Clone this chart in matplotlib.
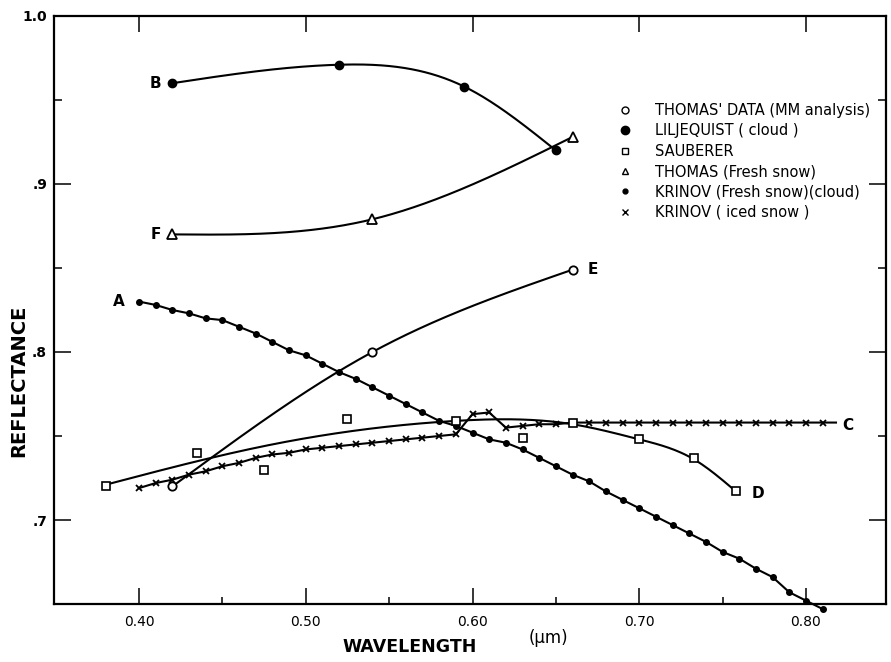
import numpy as np
import matplotlib
matplotlib.use("Agg")
import matplotlib.pyplot as plt
from matplotlib.lines import Line2D

# ---------------- data ----------------
# B : LILJEQUIST (cloud)
B_x = [0.42, 0.52, 0.595, 0.65]
B_y = [0.960, 0.971, 0.958, 0.920]
# F : THOMAS (Fresh snow)
F_x = [0.42, 0.54, 0.66]
F_y = [0.870, 0.879, 0.928]
# E : THOMAS' DATA (MM analysis)
E_x = [0.42, 0.54, 0.66]
E_y = [0.720, 0.800, 0.849]
# D : SAUBERER (squares) and the drawn curve through them
D_x = [0.38, 0.435, 0.475, 0.525, 0.59, 0.63, 0.66, 0.70, 0.733, 0.758]
D_y = [0.720, 0.740, 0.730, 0.760, 0.759, 0.749, 0.758, 0.748, 0.737, 0.717]
Dcurve_x = [0.38, 0.48, 0.59, 0.66, 0.70, 0.733, 0.758]
Dcurve_y = [0.721, 0.745, 0.759, 0.757, 0.748, 0.736, 0.717]
# A : KRINOV (Fresh snow)(cloud)
A_x = [0.40, 0.41, 0.42, 0.43, 0.44, 0.45, 0.46, 0.47, 0.48, 0.49,
       0.50, 0.51, 0.52, 0.53, 0.54, 0.55, 0.56, 0.57, 0.58, 0.59,
       0.60, 0.61, 0.62, 0.63, 0.64, 0.65, 0.66, 0.67, 0.68, 0.69,
       0.70, 0.71, 0.72, 0.73, 0.74, 0.75, 0.76, 0.77, 0.78, 0.79,
       0.80, 0.81]
A_y = [0.830, 0.828, 0.825, 0.823, 0.820, 0.819, 0.815, 0.811, 0.806, 0.801,
       0.798, 0.793, 0.788, 0.784, 0.779, 0.774, 0.769, 0.764, 0.759, 0.756,
       0.752, 0.748, 0.746, 0.742, 0.737, 0.732, 0.727, 0.723, 0.717, 0.712,
       0.707, 0.702, 0.697, 0.692, 0.687, 0.681, 0.677, 0.671, 0.666, 0.657,
       0.652, 0.647]
# C : KRINOV (iced snow)
C_x = [0.40, 0.41, 0.42, 0.43, 0.44, 0.45, 0.46, 0.47, 0.48, 0.49,
       0.50, 0.51, 0.52, 0.53, 0.54, 0.55, 0.56, 0.57, 0.58, 0.59,
       0.60, 0.61, 0.62, 0.63, 0.64, 0.65, 0.66, 0.67, 0.68, 0.69,
       0.70, 0.71, 0.72, 0.73, 0.74, 0.75, 0.76, 0.77, 0.78, 0.79,
       0.80, 0.81, 0.818]
C_y = [0.719, 0.722, 0.724, 0.727, 0.729, 0.732, 0.734, 0.737, 0.739, 0.740,
       0.742, 0.743, 0.744, 0.745, 0.746, 0.747, 0.748, 0.749, 0.750, 0.751,
       0.763, 0.764, 0.755, 0.756, 0.757, 0.757, 0.758, 0.758, 0.758, 0.758,
       0.758, 0.758, 0.758, 0.758, 0.758, 0.758, 0.758, 0.758, 0.758, 0.758,
       0.758, 0.758, 0.758]

curve_labels = ["A", "B", "C", "D", "E", "F"]
label_pos_x = [0.388, 0.410, 0.825, 0.771, 0.672, 0.410]
label_pos_y = [0.830, 0.960, 0.756, 0.716, 0.849, 0.870]

legend_labels = ["THOMAS' DATA (MM analysis)", "LILJEQUIST ( cloud )", "SAUBERER",
                 "THOMAS (Fresh snow)", "KRINOV (Fresh snow)(cloud)", "KRINOV ( iced snow )"]

x_ticks = [0.40, 0.50, 0.60, 0.70, 0.80]
x_tick_labels = ["0.40", "0.50", "0.60", "0.70", "0.80"]
y_ticks = [0.7, 0.8, 0.9, 1.0]
y_tick_labels = [".7", ".8", ".9", "1.0"]


def natural_spline(xs, ys, n=300):
    xs = np.asarray(xs, float)
    ys = np.asarray(ys, float)
    k = len(xs)
    h = np.diff(xs)
    A = np.zeros((k, k))
    r = np.zeros(k)
    A[0, 0] = 1
    A[-1, -1] = 1
    for i in range(1, k - 1):
        A[i, i - 1] = h[i - 1]
        A[i, i] = 2 * (h[i - 1] + h[i])
        A[i, i + 1] = h[i]
        r[i] = 6 * ((ys[i + 1] - ys[i]) / h[i] - (ys[i] - ys[i - 1]) / h[i - 1])
    M = np.linalg.solve(A, r)
    xx = np.linspace(xs[0], xs[-1], n)
    yy = np.empty_like(xx)
    for j, x in enumerate(xx):
        i = min(np.searchsorted(xs, x) - 1, k - 2)
        i = max(i, 0)
        t1 = xs[i + 1] - x
        t0 = x - xs[i]
        yy[j] = (M[i] * t1 ** 3 / (6 * h[i]) + M[i + 1] * t0 ** 3 / (6 * h[i])
                 + (ys[i] / h[i] - M[i] * h[i] / 6) * t1
                 + (ys[i + 1] / h[i] - M[i + 1] * h[i] / 6) * t0)
    return xx, yy


W, H = 891, 662
fig = plt.figure(figsize=(W / 100, H / 100), dpi=100)
ax = fig.add_axes([54 / W, 1 - 604 / H, (886 - 54) / W, (604 - 16) / H])
ax.set_xlim(0.349, 0.848)
ax.set_ylim(0.65, 1.0)

lw = 1.5
k = "black"

# curves
bx, by = natural_spline(B_x, B_y)
ax.plot(bx, by, color=k, lw=lw, zorder=3)
ax.plot(B_x, B_y, "o", color=k, ms=6, zorder=4)

fx, fy = natural_spline(F_x, F_y)
ax.plot(fx, fy, color=k, lw=lw, zorder=3)
ax.plot(F_x, F_y, "^", mfc="white", mec=k, mew=1.3, ms=6.5, zorder=4)

ex, ey = natural_spline(E_x, E_y)
ax.plot(ex, ey, color=k, lw=lw, zorder=3)
ax.plot(E_x, E_y, "o", mfc="white", mec=k, mew=1.3, ms=6, zorder=4)

dx, dy = natural_spline(Dcurve_x, Dcurve_y)
ax.plot(dx, dy, color=k, lw=lw, zorder=3)
ax.plot(D_x, D_y, "s", mfc="white", mec=k, mew=1.2, ms=5.5, zorder=4)

ax.plot(A_x, A_y, color=k, lw=lw, marker="o", ms=4, zorder=3, clip_on=False)

ax.plot(C_x, C_y, color=k, lw=lw, marker="x", ms=5, mew=1.3,
        markevery=slice(0, len(C_x) - 1), zorder=3)

for lab, lx, ly in zip(curve_labels, label_pos_x, label_pos_y):
    ax.text(lx, ly, lab, ha="center", va="center", fontsize=11,
            fontweight="bold", family="DejaVu Sans")

# legend
handles = [
    Line2D([], [], ls="none", marker="o", mfc="white", mec=k, mew=1.0, ms=5),
    Line2D([], [], ls="none", marker="o", color=k, ms=6),
    Line2D([], [], ls="none", marker="s", mfc="white", mec=k, mew=1.0, ms=5),
    Line2D([], [], ls="none", marker="^", mfc="white", mec=k, mew=1.0, ms=5),
    Line2D([], [], ls="none", marker="o", color=k, ms=3.5),
    Line2D([], [], ls="none", marker="x", color=k, mew=1.0, ms=4.5),
]
fig.legend(handles, legend_labels, loc="upper left",
           bbox_to_anchor=(618 / W, 1 - 103 / H), bbox_transform=fig.transFigure,
           frameon=False, fontsize=10.5, handlelength=1.0, handletextpad=1.55,
           labelspacing=0.37, borderpad=0, borderaxespad=0)

# spines / ticks
for s in ax.spines.values():
    s.set_linewidth(1.6)

ax.set_xticks(x_ticks)
ax.set_xticklabels(x_tick_labels, fontsize=10)
ax.set_xticks([0.45, 0.55, 0.65, 0.75], minor=True)
ax.set_yticks(y_ticks)
ax.set_yticklabels(y_tick_labels, fontsize=10, fontweight="bold")
ax.set_yticks([0.75, 0.85, 0.95], minor=True)
ax.tick_params(axis="x", which="major", direction="in", length=11.5, width=1.1,
               top=True, pad=8)
ax.tick_params(axis="x", which="minor", direction="in", length=5, width=1.1, top=False)
ax.tick_params(axis="y", which="major", direction="in", length=12, width=1.1,
               right=True, pad=5)
ax.tick_params(axis="y", which="minor", direction="in", length=6, width=1.1, right=True)

ax.set_ylabel("REFLECTANCE", fontsize=14, fontweight="bold")
ax.yaxis.set_label_coords(-0.031, 0.38)
ax.set_xlabel("WAVELENGTH", fontsize=12.5, fontweight="bold")
ax.xaxis.set_label_coords(0.428, -0.058)
ax.text(0.594, -0.058, "(μm)", transform=ax.transAxes, ha="center", va="center",
        fontsize=12)

fig.savefig("out.png", dpi=100)
